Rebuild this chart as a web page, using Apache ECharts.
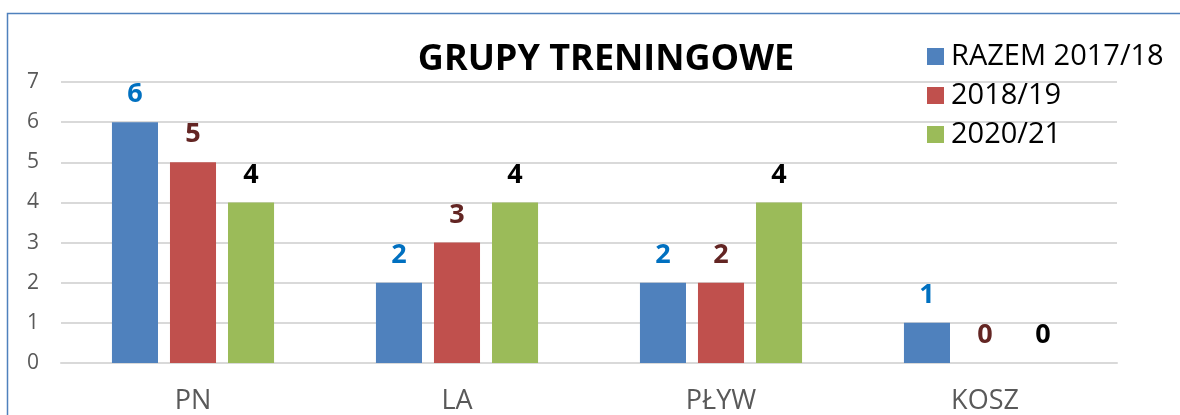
<!DOCTYPE html>
<html>
<head>
<meta charset="utf-8">
<script src="https://cdn.jsdelivr.net/npm/echarts@6/dist/echarts.min.js"></script>
<style>
  html, body { margin: 0; padding: 0; background: #fff; }
  #chart { width: 1180px; height: 415px; }
</style>
</head>
<body>
<div id="chart"></div>
<script>
const categories = ['PN', 'LA', 'PŁYW', 'KOSZ'];
const seriesNames = ['RAZEM 2017/18', '2018/19', '2020/21'];
const razem1718 = [6, 2, 2, 1];
const s1819 = [5, 3, 2, 0];
const s2021 = [4, 4, 4, 0];
const yTicks = [0, 1, 2, 3, 4, 5, 6, 7];

const barColors = ['#4f81bd', '#c0504d', '#9bbb59'];
const labelColors = ['#0070c0', '#632523', '#000000'];
const font = 'Open Sans, Liberation Sans, sans-serif';

const chart = echarts.init(document.getElementById('chart'));

const makeSeries = (name, data, i) => ({
  name: name,
  type: 'bar',
  data: data,
  barGap: '26%',
  barCategoryGap: '38.6%',
  itemStyle: { color: barColors[i] },
  label: {
    show: true,
    position: 'top',
    distance: 14,
    color: labelColors[i],
    fontFamily: font,
    fontWeight: 'bold',
    fontSize: 27
  }
});

chart.setOption({
  backgroundColor: '#fff',
  animation: false,
  graphic: [{
    type: 'rect',
    shape: { x: 7.5, y: 13.5, width: 1200, height: 500 },
    style: { fill: 'none', stroke: '#4f81bd', lineWidth: 1.5 },
    silent: true
  }],
  title: {
    text: 'GRUPY TRENINGOWE',
    left: 601,
    textAlign: 'center',
    top: 37,
    textStyle: { fontFamily: font, fontWeight: 'bold', fontSize: 36, color: '#000' }
  },
  legend: {
    data: seriesNames,
    orient: 'vertical',
    left: 922,
    top: 37,
    itemWidth: 17,
    itemHeight: 17,
    itemGap: 10,
    icon: 'rect',
    textStyle: { fontFamily: font, fontSize: 29, color: '#000', padding: [0, 0, 0, 2] }
  },
  grid: { left: 61, right: 63, top: 82, bottom: 49 },
  xAxis: {
    type: 'category',
    data: categories,
    axisLine: { show: true, lineStyle: { color: '#d9d9d9', width: 2 } },
    axisTick: { show: false },
    axisLabel: { fontFamily: font, fontSize: 27, color: '#595959', margin: 25 }
  },
  yAxis: {
    type: 'value',
    min: yTicks[0],
    max: yTicks[yTicks.length - 1],
    interval: 1,
    axisLine: { show: false },
    axisTick: { show: false },
    splitLine: { lineStyle: { color: '#d9d9d9', width: 2 } },
    axisLabel: { fontFamily: font, fontSize: 21, color: '#595959', margin: 22 }
  },
  series: [
    makeSeries(seriesNames[0], razem1718, 0),
    makeSeries(seriesNames[1], s1819, 1),
    makeSeries(seriesNames[2], s2021, 2)
  ]
});
</script>
</body>
</html>
